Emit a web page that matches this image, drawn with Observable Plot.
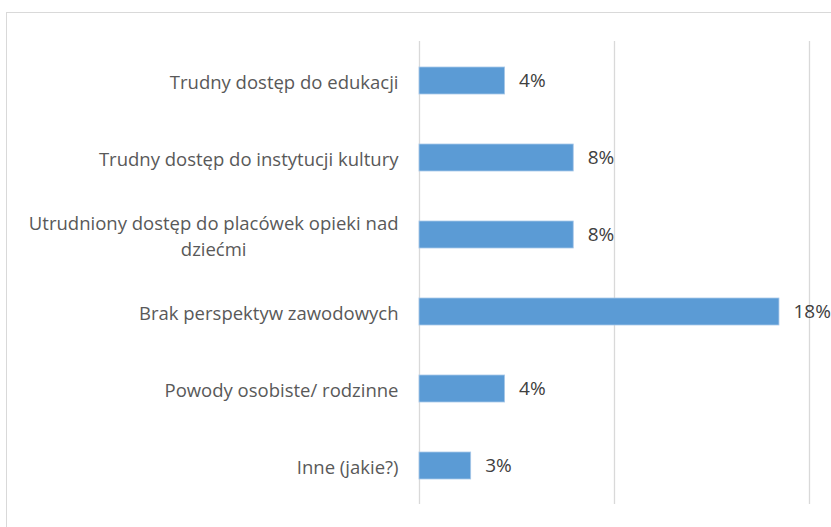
<!DOCTYPE html>
<html>
<head>
<meta charset="utf-8">
<script src="https://cdn.jsdelivr.net/npm/d3@7"></script>
<script src="https://cdn.jsdelivr.net/npm/@observablehq/plot@0.6"></script>
<style>
  html, body { margin: 0; padding: 0; background: #fff; overflow: hidden; }
  #wrap { position: relative; width: 831px; height: 527px; }
  #frame { position: absolute; left: 6px; top: 12px; width: 900px; height: 600px; border: 1px solid #d9d9d9; box-sizing: border-box; }
  #chart { position: absolute; left: 0; top: 0; }
</style>
</head>
<body>
<div id="wrap"><div id="frame"></div><div id="chart"></div></div>
<script>
const categories = [
  "Trudny dostęp do edukacji",
  "Trudny dostęp do instytucji kultury",
  "Utrudniony dostęp do placówek opieki nad dziećmi",
  "Brak perspektyw zawodowych",
  "Powody osobiste/ rodzinne",
  "Inne (jakie?)"
];
const values = [4.39, 7.91, 7.91, 18.46, 4.39, 2.65];
const valueLabels = ["4%", "8%", "8%", "18%", "4%", "3%"];
const gridTicks = [0, 10, 20];

const data = categories.map((c, i) => ({category: c, value: values[i], label: valueLabels[i]}));

const chart = Plot.plot({
  width: 831,
  height: 527,
  marginLeft: 419,
  marginRight: 22,
  marginTop: 41,
  marginBottom: 23,
  style: {fontFamily: "'Open Sans', Lato, sans-serif", background: "transparent"},
  x: {domain: [0, 20], axis: null},
  y: {domain: categories, paddingInner: 0.65, paddingOuter: 0.325, axis: null},
  marks: [
    Plot.ruleX(gridTicks, {stroke: "#d9d9d9", strokeWidth: 1.3}),
    Plot.barX(data, {x: "value", y: "category", fill: "#5b9bd5", stroke: "#a9c8e8", strokeWidth: 0.8}),
    Plot.text(data, {x: "value", y: "category", text: "label", textAnchor: "start", dx: 14, fontSize: 19, fill: "#404040"}),
    Plot.axisY({
      tickSize: 0,
      tickPadding: 21,
      fontSize: 18.5,
      lineHeight: 1.4,
      fill: "#595959",
      label: null,
      tickFormat: d => d.replace("opieki nad ", "opieki nad\n")
    })
  ]
});
document.getElementById("chart").appendChild(chart);

// Center lines of wrapped category labels (like the original)
chart.querySelectorAll("text").forEach(t => {
  const spans = t.querySelectorAll("tspan");
  if (spans.length > 1) {
    const w = t.getBBox().width;
    t.setAttribute("text-anchor", "middle");
    spans.forEach(s => s.setAttribute("x", -w / 2));
  }
});
</script>
</body>
</html>
